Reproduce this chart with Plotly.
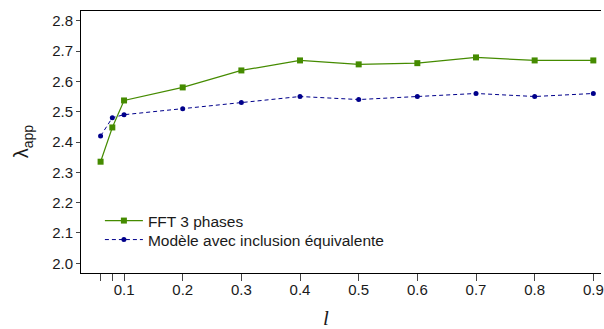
import plotly.graph_objects as go

# Inclusion parameter l and apparent conductivity lambda_app
l_values = [0.06, 0.08, 0.1, 0.2, 0.3, 0.4, 0.5, 0.6, 0.7, 0.8, 0.9]
fft_3_phases = [2.335, 2.448, 2.537, 2.580, 2.636, 2.669, 2.656, 2.660, 2.679, 2.669, 2.669]
modele_inclusion = [2.42, 2.48, 2.49, 2.51, 2.53, 2.55, 2.54, 2.55, 2.56, 2.55, 2.56]

x_tickvals = [0.1, 0.2, 0.3, 0.4, 0.5, 0.6, 0.7, 0.8, 0.9]
x_ticktext = ["0.1", "0.2", "0.3", "0.4", "0.5", "0.6", "0.7", "0.8", "0.9"]
x_minor_ticks = [0.06, 0.08]
y_tickvals = [2.0, 2.1, 2.2, 2.3, 2.4, 2.5, 2.6, 2.7, 2.8]
y_ticktext = ["2.0", "2.1", "2.2", "2.3", "2.4", "2.5", "2.6", "2.7", "2.8"]

GREEN = "#458B00"
BLUE = "#00008B"
FONT = "Liberation Sans"
TEXT = "#1a1a1a"

W, H = 604, 329
ML, MT, MB, MR = 81, 11, 56, 0
plot_w = W - ML - MR
plot_h = H - MT - MB


def px_to_paper_x(px):
    return (px - ML) / plot_w


def px_to_paper_y(py):
    return (H - MB - py) / plot_h


fig = go.Figure()
fig.add_trace(go.Scatter(
    x=l_values, y=fft_3_phases, mode="lines+markers", name="FFT 3 phases",
    line=dict(color=GREEN, width=1.2),
    marker=dict(symbol="square", size=6, color=GREEN),
    legend="legend",
))
fig.add_trace(go.Scatter(
    x=l_values, y=modele_inclusion, mode="lines+markers",
    name="Modèle avec inclusion équivalente",
    line=dict(color=BLUE, width=1, dash="4px,3px"),
    marker=dict(symbol="circle", size=5, color=BLUE),
    legend="legend2",
))

legend_style = dict(
    x=px_to_paper_x(100), xanchor="left", yanchor="middle",
    bgcolor="rgba(0,0,0,0)", font=dict(size=15.5, family=FONT, color=TEXT),
    itemwidth=38,
)

fig.update_layout(
    width=W, height=H,
    margin=dict(l=ML, r=MR, t=MT, b=MB),
    paper_bgcolor="white", plot_bgcolor="white",
    font=dict(family=FONT, size=15, color=TEXT),
    showlegend=True,
    legend=dict(y=px_to_paper_y(221), **legend_style),
    legend2=dict(y=px_to_paper_y(240), **legend_style),
    xaxis=dict(
        range=[0.0266, 0.9131],
        tickvals=x_tickvals, ticktext=x_ticktext,
        ticks="outside", ticklen=7, tickwidth=1, tickcolor="#444",
        minor=dict(tickvals=x_minor_ticks, ticks="outside", ticklen=7,
                   tickwidth=1, tickcolor="#444", showgrid=False),
        showline=True, linecolor="black", linewidth=1, mirror=True,
        showgrid=False, zeroline=False,
        tickfont=dict(size=15),
        ticklabeloverflow="allow",
        ticklabelstandoff=-4,
    ),
    yaxis=dict(
        range=[1.968, 2.832],
        tickvals=y_tickvals, ticktext=y_ticktext,
        ticks="outside", ticklen=4, tickwidth=1, tickcolor="#444",
        showline=True, linecolor="black", linewidth=1, mirror=False,
        showgrid=False, zeroline=False,
        tickfont=dict(size=15),
    ),
    annotations=[
        dict(
            text="λ<sub>app</sub>", textangle=-90,
            xref="paper", yref="paper",
            x=px_to_paper_x(22), y=px_to_paper_y(141), xanchor="center", yanchor="middle",
            showarrow=False, font=dict(size=20, family=FONT, color=TEXT),
        ),
        dict(
            text="<i>l</i>",
            xref="paper", yref="paper",
            x=px_to_paper_x(327), y=px_to_paper_y(318),
            xanchor="center", yanchor="middle",
            showarrow=False, font=dict(size=21, family="Liberation Serif", color=TEXT),
        ),
    ],
)

fig.write_html("out.html")
